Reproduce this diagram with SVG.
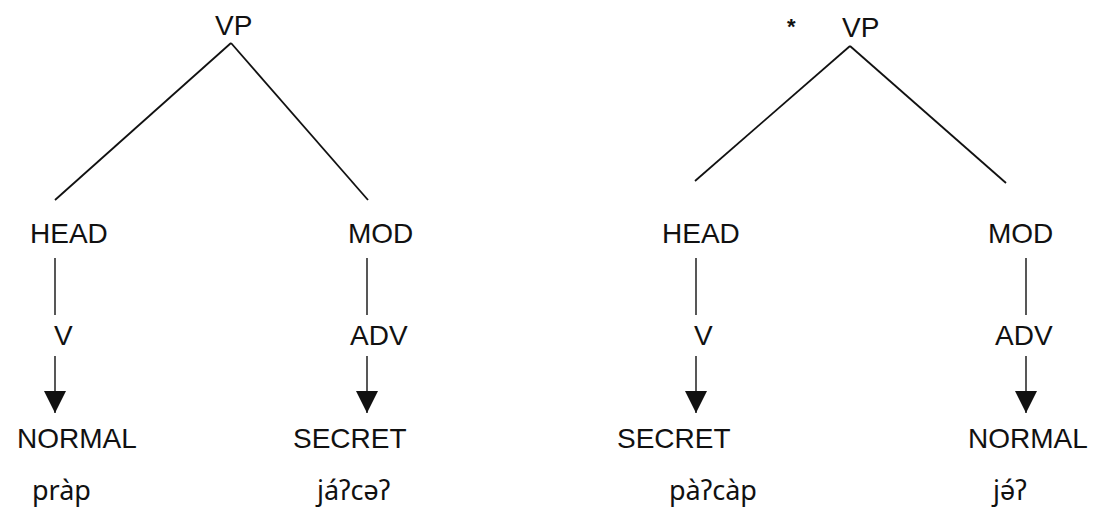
<svg xmlns="http://www.w3.org/2000/svg" width="1102" height="511" viewBox="0 0 1102 511">
  <style>
    .lbl { font-family: "Liberation Sans", Arial, sans-serif; font-size: 28px; fill: #111111; }
    .form { font-family: "Noto Sans", "DejaVu Sans", sans-serif; font-size: 27px; fill: #111111; }
    .star { font-family: "Liberation Sans", Arial, sans-serif; font-size: 22px; font-weight: bold; fill: #111111; }
    .edge { stroke: #111111; stroke-width: 1.8; fill: none; }
    .link { stroke: #111111; stroke-width: 1.4; fill: none; }
    .arrow { stroke: #111111; stroke-width: 1.4; fill: none; marker-end: url(#head); }
  </style>
  <defs>
    <marker id="head" markerUnits="userSpaceOnUse" markerWidth="22" markerHeight="22" viewBox="0 0 20 20" refX="20" refY="10" orient="auto">
      <path d="M0,0 L20,10 L0,20 z" fill="#111111"/>
    </marker>
  </defs>
  <rect width="1102" height="511" fill="#ffffff"/>

  <!-- connectors: tree branches, unary links and realisation arrows -->
  <g id="connectors">
    <!-- left tree -->
    <line class="edge" x1="231" y1="43" x2="55" y2="200"/>
    <line class="edge" x1="231" y1="43" x2="368" y2="200"/>
    <line class="link" x1="55" y1="258" x2="55" y2="315"/>
    <line class="arrow" x1="55" y1="356" x2="55" y2="413"/>
    <line class="link" x1="367" y1="258" x2="367" y2="315"/>
    <line class="arrow" x1="367" y1="356" x2="367" y2="413"/>
    <!-- right tree -->
    <line class="edge" x1="850" y1="46" x2="695" y2="181"/>
    <line class="edge" x1="850" y1="46" x2="1006" y2="183"/>
    <line class="link" x1="696" y1="258" x2="696" y2="315"/>
    <line class="arrow" x1="696" y1="356" x2="696" y2="413"/>
    <line class="link" x1="1026" y1="258" x2="1026" y2="315"/>
    <line class="arrow" x1="1026" y1="356" x2="1026" y2="413"/>
  </g>

  <!-- left tree: head carries the normal register -->
  <g id="vp-left"><text class="lbl" x="215" y="35">VP</text></g>
  <g id="head-left"><text class="lbl" x="30" y="243">HEAD</text></g>
  <g id="mod-left"><text class="lbl" x="348" y="243">MOD</text></g>
  <g id="v-left"><text class="lbl" x="54" y="345">V</text></g>
  <g id="adv-left"><text class="lbl" x="350" y="345">ADV</text></g>
  <g id="normal-left"><text class="lbl" x="17" y="448">NORMAL</text></g>
  <g id="secret-left"><text class="lbl" x="293" y="448">SECRET</text></g>
  <g id="form-prap"><text class="form" x="32" y="500">pràp</text></g>
  <g id="form-jacae"><text class="form" x="317" y="500">jáʔcəʔ</text></g>

  <!-- right tree: ungrammatical ordering -->
  <g id="star"><text class="star" x="787" y="34">*</text></g>
  <g id="vp-right"><text class="lbl" x="842" y="37">VP</text></g>
  <g id="head-right"><text class="lbl" x="662" y="243">HEAD</text></g>
  <g id="mod-right"><text class="lbl" x="988" y="243">MOD</text></g>
  <g id="v-right"><text class="lbl" x="694" y="345">V</text></g>
  <g id="adv-right"><text class="lbl" x="995" y="345">ADV</text></g>
  <g id="secret-right"><text class="lbl" x="617" y="448">SECRET</text></g>
  <g id="normal-right"><text class="lbl" x="968" y="448">NORMAL</text></g>
  <g id="form-pacap"><text class="form" x="669" y="500">pàʔcàp</text></g>
  <g id="form-jae"><text class="form" x="993" y="500">jə́ʔ</text></g>
</svg>
